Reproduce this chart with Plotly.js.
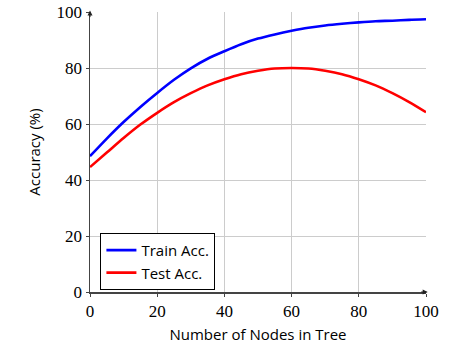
<!DOCTYPE html>
<html>
<head>
<meta charset="utf-8">
<script src="https://cdn.plot.ly/plotly-3.0.1.min.js"></script>
<style>html,body{margin:0;padding:0;background:#fff}#chart{width:461px;height:346px}</style>
</head>
<body>
<div id="chart"></div>
<script>
const nodes = [0, 5, 10, 15, 20, 25, 30, 35, 40, 45, 50, 55, 60, 65, 70, 75, 80, 85, 90, 95, 100];
const trainAcc = [48.5, 54.8, 60.7, 66.1, 71.1, 75.8, 79.9, 83.3, 86.0, 88.5, 90.5, 92.0, 93.3, 94.4, 95.2, 95.8, 96.3, 96.7, 96.9, 97.2, 97.4];
const testAcc = [44.6, 49.8, 55.0, 59.8, 64.0, 67.8, 71.0, 73.8, 76.0, 77.8, 79.0, 79.8, 80.0, 79.8, 79.0, 77.8, 76.0, 73.8, 71.0, 67.8, 64.2];
const xTicks = [0, 20, 40, 60, 80, 100];
const yTicks = [0, 20, 40, 60, 80, 100];

const sans = "Open Sans, sans-serif";
const serif = "Liberation Serif, DejaVu Serif, serif";

const traces = [
  {x: nodes, y: trainAcc, name: "Train Acc.", mode: "lines",
   line: {color: "#0000ff", width: 2.6, shape: "spline", smoothing: 0.8}},
  {x: nodes, y: testAcc, name: "Test Acc.", mode: "lines",
   line: {color: "#ff0000", width: 2.6, shape: "spline", smoothing: 0.8}}
];

const axisCommon = {
  showgrid: true, gridcolor: "#cccccc", gridwidth: 1,
  showline: true, linecolor: "#444444", linewidth: 1.5,
  ticks: "outside", ticklen: 3, tickcolor: "#444444",
  zeroline: false, tickfont: {family: serif, size: 17, color: "#000"}
};

const layout = {
  width: 461, height: 346,
  margin: {l: 90, r: 35, t: 12, b: 54},
  paper_bgcolor: "#fff", plot_bgcolor: "#fff",
  showlegend: true,
  xaxis: Object.assign({}, axisCommon, {
    range: [0, 100], tickvals: xTicks, ticktext: xTicks.map(String),
    title: {text: "Number of Nodes in Tree", font: {family: sans, size: 15, color: "#000"}, standoff: 9}
  }),
  yaxis: Object.assign({}, axisCommon, {
    range: [0, 100], tickvals: yTicks, ticktext: yTicks.map(String),
    title: {text: "Accuracy (%)", font: {family: sans, size: 15, color: "#000"}, standoff: 12}
  }),
  legend: {
    x: 0.031, y: 0.211, xanchor: "left", yanchor: "top",
    bordercolor: "#000", borderwidth: 1, bgcolor: "#fff",
    font: {family: sans, size: 15, color: "#000"}
  },
  annotations: [
    {xref: "paper", yref: "paper", x: 1.005, y: 0, ax: -8, ay: 0, showarrow: true,
     arrowhead: 2, arrowsize: 1, arrowwidth: 1, arrowcolor: "#222", text: ""},
    {xref: "paper", yref: "paper", x: 0, y: 1.005, ax: 0, ay: 8, showarrow: true,
     arrowhead: 2, arrowsize: 1, arrowwidth: 1, arrowcolor: "#222", text: ""}
  ]
};

Plotly.newPlot("chart", traces, layout, {displayModeBar: false, staticPlot: true});
</script>
</body>
</html>
